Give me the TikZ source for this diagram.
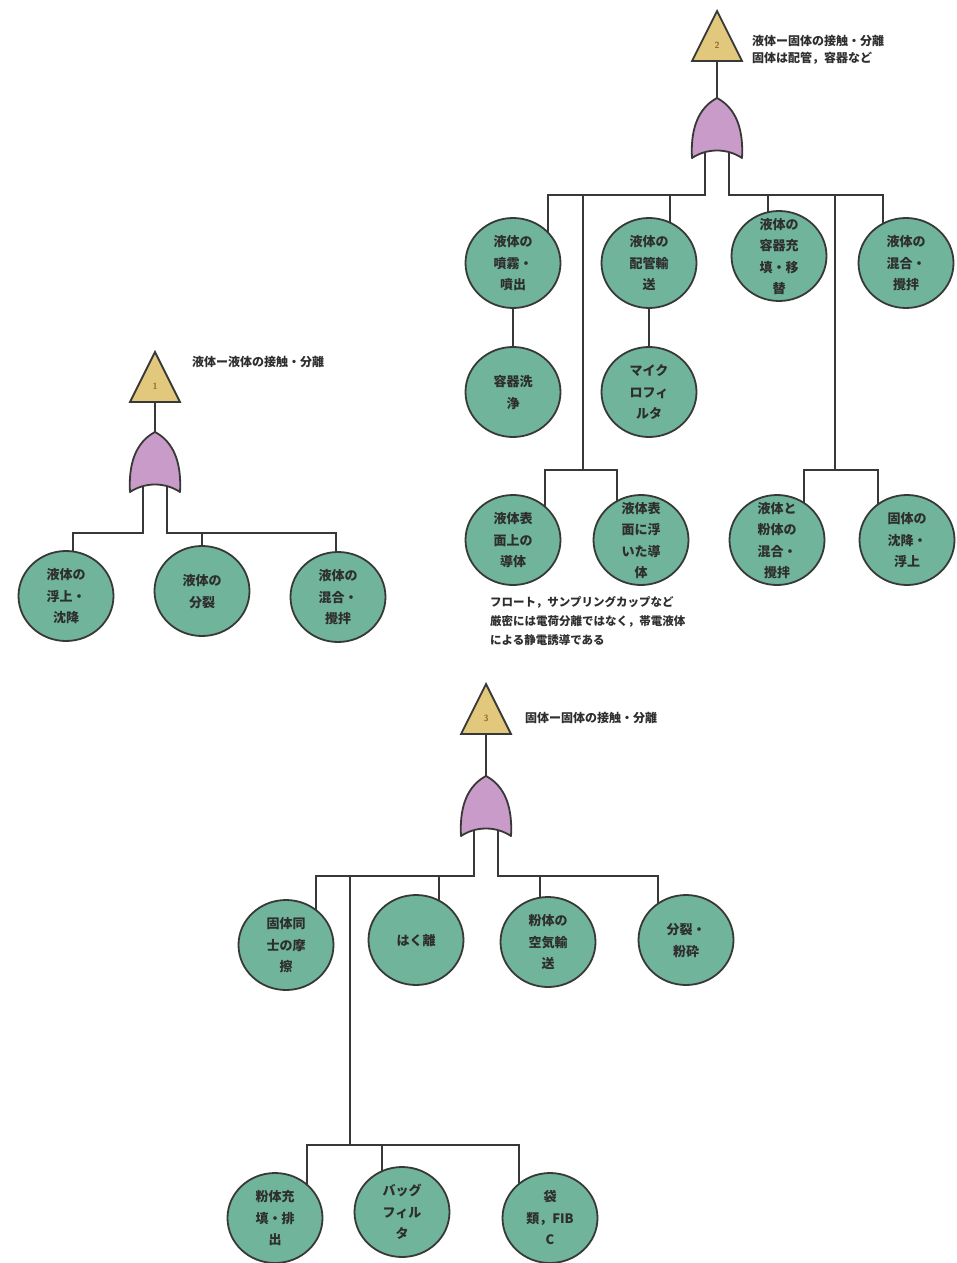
\documentclass[tikz,border=0pt]{standalone}
\usepackage{fontspec}
\newfontfamily\jp{Noto Sans CJK JP}
\usetikzlibrary{calc,shapes.geometric}
\pgfdeclarelayer{bg}
\pgfsetlayers{bg,main}
\definecolor{circfill}{HTML}{70B49C}
\definecolor{gatefill}{HTML}{C89BC8}
\definecolor{trifill}{HTML}{E2C87D}
\definecolor{wirecol}{HTML}{383838}
\definecolor{txtcol}{HTML}{2E2E2E}
\definecolor{numcol}{HTML}{9A6A2A}
\newcommand\ct[1]{\makebox[0pt]{\raisebox{-4pt}[0pt][0pt]{\begin{tabular}{@{}c@{}}#1\end{tabular}}}}
\newcommand\orgate[3]{%
  \draw[gatest] (#2-25,#3+60) .. controls (#2-27,#3+25) and (#2-15,#3+8) .. (#2,#3)
    .. controls (#2+15,#3+8) and (#2+27,#3+25) .. (#2+25,#3+60)
    .. controls (#2+10,#3+50) and (#2-10,#3+50) .. cycle;
  \coordinate (#1top) at (#2,#3);
  \coordinate (#1L) at (#2-12,#3+55);
  \coordinate (#1R) at (#2+12,#3+55);}
\newcommand\trig[4]{%
  \draw[trist] (#2,#3) -- (#2+25,#3+50) -- (#2-25,#3+50) -- cycle;
  \node[numst] (#1) at (#2,#3+34) {#4};
  \coordinate (#1base) at (#2,#3+50);}
\begin{document}
\begin{tikzpicture}[x=1pt,y=-1pt,
  wire/.style={draw=wirecol,line width=1.8pt},
  gatest/.style={draw=wirecol,line width=1.8pt,fill=gatefill,line join=round},
  trist/.style={draw=wirecol,line width=1.8pt,fill=trifill,line join=miter},
  numst/.style={inner sep=0pt,font=\sffamily\bfseries\fontsize{9}{9}\selectfont,text=numcol},
  ev/.style={ellipse,draw=wirecol,line width=1.8pt,fill=circfill,minimum width=95pt,
    minimum height=90pt,inner sep=0pt,
    font=\jp\bfseries\fontsize{13}{21.5}\selectfont,text=txtcol},
  lab/.style={anchor=west,inner sep=0pt,align=left,
    font=\jp\bfseries\fontsize{12}{17}\selectfont,text=txtcol}]
\useasboundingbox (0,0) rectangle (957,1263);

% ---------- tree 2 ----------
\trig{t2}{717}{11}{2}
\node[lab] (l2) at (752,50) {液体ー固体の接触・分離\\固体は配管，容器など};
\orgate{g2}{717}{98}
\coordinate (bus2) at (0,195);
\coordinate (bus2b) at (0,470);
\node[ev] (c21) at (513,263) {\ct{液体の\\噴霧・\\噴出}};
\node[ev] (c22) at (649,263) {\ct{液体の\\配管輸\\送}};
\node[ev] (c23) at (779,256) {\ct{液体の\\容器充\\填・移\\替}};
\node[ev] (c24) at (906,263) {\ct{液体の\\混合・\\攪拌}};
\node[ev] (c25) at (513,392) {\ct{容器洗\\浄}};
\node[ev] (c26) at (649,392) {\ct{マイク\\ロフィ\\ルタ}};
\node[ev] (c27) at (513,540) {\ct{液体表\\面上の\\導体}};
\node[ev] (c28) at (641,540) {\ct{液体表\\面に浮\\いた導\\体}};
\node[ev] (c29) at (777,540) {\ct{液体と\\粉体の\\混合・\\攪拌}};
\node[ev] (c2a) at (907,540) {\ct{固体の\\沈降・\\浮上}};
\node[anchor=north west,inner sep=0pt,align=left,
  font=\jp\bfseries\fontsize{11.5}{19}\selectfont,text=txtcol] (note) at (490,596)
  {フロート，サンプリングカップなど\\厳密には電荷分離ではなく，帯電液体\\による静電誘導である};

% ---------- tree 1 ----------
\trig{t1}{155}{352}{1}
\node[lab] (l1) at (192,362) {液体ー液体の接触・分離};
\orgate{g1}{155}{432}
\coordinate (bus1) at (0,533);
\node[ev] (c11) at (66,596) {\ct{液体の\\浮上・\\沈降}};
\node[ev] (c12) at (202,591) {\ct{液体の\\分裂}};
\node[ev] (c13) at (338,597) {\ct{液体の\\混合・\\攪拌}};

% ---------- tree 3 ----------
\trig{t3}{486}{684}{3}
\node[lab] (l3) at (525,718) {固体ー固体の接触・分離};
\orgate{g3}{486}{776}
\coordinate (bus3) at (0,876);
\coordinate (bus3b) at (0,1145);
\node[ev] (c31) at (286,945) {\ct{固体同\\士の摩\\擦}};
\node[ev] (c32) at (416,940) {\ct{はく離}};
\node[ev] (c33) at (548,942) {\ct{粉体の\\空気輸\\送}};
\node[ev] (c34) at (686,940) {\ct{分裂・\\粉砕}};
\node[ev] (c35) at (275,1218) {\ct{粉体充\\填・排\\出}};
\node[ev] (c36) at (402,1212) {\ct{バッグ\\フィル\\タ}};
\node[ev] (c37) at (550,1218) {\ct{袋\\類，FIB\\C}};

\begin{pgfonlayer}{bg}
\fill[white] (0,0) rectangle (957,1263);
% tree 2
\draw[wire] (t2base) -- (g2top);
\draw[wire] (g2L) -- (g2L |- bus2) -| ([xshift=35pt]c21.center);
\draw[wire] (g2R) -- (g2R |- bus2) -| ([xshift=-23pt]c24.center);
\draw[wire] ([xshift=21pt]c22.center) -- ([xshift=21pt]c22.center |- bus2);
\draw[wire] ([xshift=-11pt]c23.center) -- ([xshift=-11pt]c23.center |- bus2);
\draw[wire] (c21) -- (c25);
\draw[wire] (c22) -- (c26);
\draw[wire] ([xshift=70pt]c21.center |- bus2) -- ([xshift=70pt]c21.center |- bus2b);
\draw[wire] ([xshift=32pt]c27.center) -- ([xshift=32pt]c27.center |- bus2b) -| ([xshift=-24pt]c28.center);
\draw[wire] ([xshift=-71pt]c24.center |- bus2) -- ([xshift=-71pt]c24.center |- bus2b);
\draw[wire] ([xshift=27pt]c29.center) -- ([xshift=27pt]c29.center |- bus2b) -| ([xshift=-29pt]c2a.center);
% tree 1
\draw[wire] (t1base) -- (g1top);
\draw[wire] (g1L) -- (g1L |- bus1) -| ([xshift=7pt]c11.center);
\draw[wire] (g1R) -- (g1R |- bus1) -| ([xshift=-2pt]c13.center);
\draw[wire] (c12.center) -- (c12.center |- bus1);
% tree 3
\draw[wire] (t3base) -- (g3top);
\draw[wire] (g3L) -- (g3L |- bus3) -| ([xshift=30pt]c31.center);
\draw[wire] (g3R) -- (g3R |- bus3) -| ([xshift=-28pt]c34.center);
\draw[wire] ([xshift=23pt]c32.center) -- ([xshift=23pt]c32.center |- bus3);
\draw[wire] ([xshift=-8pt]c33.center) -- ([xshift=-8pt]c33.center |- bus3);
\draw[wire] ([xshift=64pt]c31.center |- bus3) -- ([xshift=64pt]c31.center |- bus3b);
\draw[wire] ([xshift=32pt]c35.center) -- ([xshift=32pt]c35.center |- bus3b) -| ([xshift=-31pt]c37.center);
\draw[wire] ([xshift=-20pt]c36.center) -- ([xshift=-20pt]c36.center |- bus3b);
\end{pgfonlayer}
\end{tikzpicture}
\end{document}
